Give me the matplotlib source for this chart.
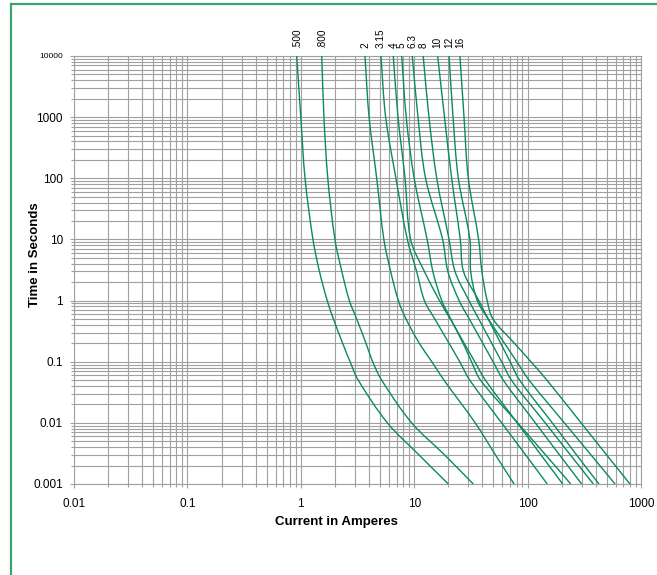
import matplotlib
matplotlib.use("Agg")
import numpy as np
import matplotlib.pyplot as plt
from matplotlib.lines import Line2D
from matplotlib.path import Path
from matplotlib.patches import PathPatch

plt.rcParams['font.family'] = ['Liberation Sans', 'DejaVu Sans']

times = [10000, 1000, 100, 10, 3, 1, 0.5, 0.2, 0.1, 0.05, 0.01, 0.003, 0.001]

ratings = ['.500', '.800', '2', '3.15', '4', '5', '6.3', '8', '10', '12', '16']

# current (A) of each fuse curve at the times above
amps_0500 = [0.92, 1.0, 1.09, 1.28, 1.46, 1.71, 1.94, 2.34, 2.72, 3.21, 5.8, 11.0, 20]
amps_0800 = [1.53, 1.6, 1.73, 2.0, 2.3, 2.68, 3.11, 3.76, 4.3, 5.16, 9.5, 18.5, 33.2]
amps_2 = [3.68, 4.0, 4.67, 5.4, 6.2, 7.25, 8.47, 11.1, 14.3, 18.3, 34.5, 52, 76]
amps_315 = [5.09, 5.6, 6.9, 8.7, 10.5, 12.3, 15.2, 20.3, 25.2, 30.9, 59, 96, 149]
amps_4 = [6.54, 7.2, 8.3, 9.3, 12.3, 16.7, 20.8, 27.6, 34.2, 42.4, 81, 131, 204]
amps_5 = [7.76, 8.5, 10.0, 13.0, 14.6, 17.5, 21, 27, 32, 38.4, 81.7, 144, 240]
amps_63 = [9.62, 10.8, 12.6, 17.8, 19.8, 24.9, 30.6, 40.3, 49.6, 61, 117, 191, 300]
amps_8 = [12.0, 13.5, 15.8, 20.3, 22.9, 30.4, 37.1, 48.3, 59, 72, 143, 238, 380]
amps_10 = [16.1, 18.5, 21.4, 25.5, 27.2, 37.1, 44.9, 57.9, 70.1, 85, 165, 270, 426]
amps_12 = [20.3, 22, 24.5, 31, 31.5, 36, 45, 62.6, 80.3, 103, 211, 362, 590]
amps_16 = [25.3, 27.5, 30, 37, 39.5, 44, 49.5, 76.6, 107, 148, 296, 497, 800]

curves = [amps_0500, amps_0800, amps_2, amps_315, amps_4, amps_5,
          amps_63, amps_8, amps_10, amps_12, amps_16]

y_ticks = [0.001, 0.01, 0.1, 1, 10, 100, 1000, 10000]
y_labels = ['0.001', '0.01', '0.1', '1', '10', '100', '1000', '10000']
x_ticks = [0.01, 0.1, 1, 10, 100, 1000]
x_labels = ['0.01', '0.1', '1', '10', '100', '1000']

W, H = 657, 575
L, R, T, B = 74, 641, 56, 484          # plot area in pixels
ASPECT = ((B - T) / 7) / ((R - L) / 5)  # y decade size relative to x decade


def smooth_path(xs, ys):
    # smoothed line like Excel's: cubic bezier through the points in log-log space
    p = np.column_stack([np.log10(xs), np.log10(ys) * ASPECT])
    n = len(p)
    tang = np.zeros_like(p)
    for i in range(n):
        d = p[min(i + 1, n - 1)] - p[max(i - 1, 0)]
        tang[i] = d / np.hypot(*d)
    verts = [p[0]]
    codes = [Path.MOVETO]
    for i in range(n - 1):
        h = np.hypot(*(p[i + 1] - p[i])) / 3
        verts += [p[i] + tang[i] * h, p[i + 1] - tang[i + 1] * h, p[i + 1]]
        codes += [Path.CURVE4] * 3
    v = np.array(verts)
    v[:, 1] /= ASPECT
    return Path(10 ** v, codes)


fig = plt.figure(figsize=(W / 100, H / 100), dpi=100)
ax = fig.add_axes([L / W, 1 - B / H, (R - L) / W, (B - T) / H])

line_col = '#0a8a62'
for amps, name in zip(curves, ratings):
    ax.add_patch(PathPatch(smooth_path(amps, times), fill=False, edgecolor=line_col,
                           lw=1.0, zorder=3))
    ax.annotate(name, (amps[0], times[0]), xytext=(0, 5.5), textcoords='offset points',
                rotation=90, ha='center', va='bottom', fontsize=7.2, annotation_clip=False)

ax.set_xscale('log')
ax.set_yscale('log')
ax.set_xlim(0.01, 1000)
ax.set_ylim(0.001, 10000)

ax.grid(which='both', color='#a0a0a0', lw=0.8)
for s in ax.spines.values():
    s.set_color('#a0a0a0')
    s.set_linewidth(0.8)

ax.set_xticks(x_ticks)
ax.set_xticklabels(x_labels, fontsize=8.5)
ax.set_yticks(y_ticks)
ax.set_yticklabels(y_labels, fontsize=8.5)
ax.get_yticklabels()[-1].set_fontsize(6)
ax.tick_params(which='both', direction='out', color='#a0a0a0', length=3, width=0.8)
ax.tick_params(axis='x', pad=7)
ax.tick_params(axis='y', pad=5)
ax.tick_params(which='minor', length=2, labelleft=False, labelbottom=False)

fig.text(336 / W, 1 - 522 / H, 'Current in Amperes', ha='center', va='center',
         fontsize=9.5, fontweight='bold')
fig.text(35 / W, 1 - 255 / H, 'Time in Seconds', ha='center', va='center',
         rotation=90, fontsize=9.5, fontweight='bold')

# green frame around the chart
border = '#3ea173'
fig.add_artist(Line2D([11 / W, 11 / W], [0, 1 - 4 / H], color=border, lw=1.6))
fig.add_artist(Line2D([11 / W, 1], [1 - 4 / H, 1 - 4 / H], color=border, lw=1.6))

fig.savefig('out.png', dpi=100)
